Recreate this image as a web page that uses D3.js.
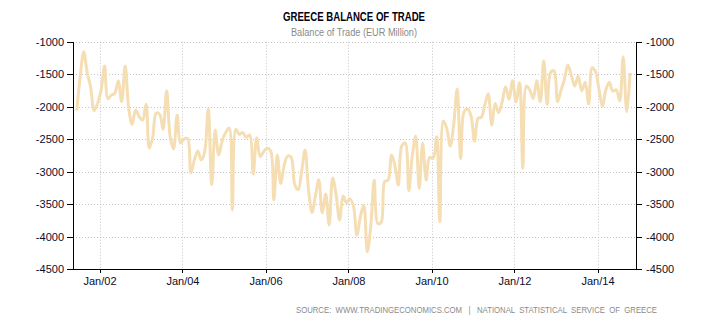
<!DOCTYPE html>
<html><head><meta charset="utf-8">
<script src="https://cdn.jsdelivr.net/npm/d3@7/dist/d3.min.js"></script>
<style>html,body{margin:0;padding:0;background:#fff;}svg{display:block;}</style>
</head><body>
<svg id="chart" width="710" height="325"></svg>
<script>
// Monthly balance of trade, EUR million (Jun 2001 - Oct 2014)
const values2001 = [-2060, -1540, -1155, -1477, -1700, -2062, -1950];            // Jun-Dec
const values2002 = [-1745, -1375, -1880, -1822, -1796, -1606, -1924, -1375, -2026, -2273, -2050, -2150];
const values2003 = [-2206, -1965, -2640, -2463, -2100, -2120, -2350, -1755, -2463, -2650, -2129, -2560];
const values2004 = [-2500, -2490, -3018, -2822, -2684, -2822, -2694, -2037, -3200, -2361, -2746, -2530];
const values2005 = [-2400, -2330, -3592, -2350, -2427, -2400, -2473, -2437, -3038, -2479, -2771, -2694];
const values2006 = [-2640, -2680, -3438, -2745, -3182, -2900, -2760, -2781, -3200, -3280, -3000, -2668];
const values2007 = [-3285, -3628, -3387, -3126, -3634, -3346, -3823, -3100, -3362, -3746, -3377, -3480];
const values2008 = [-3420, -3541, -3977, -3695, -3515, -4234, -3849, -3130, -3800, -3780, -3156, -3130];
const values2009 = [-2745, -2925, -3207, -2600, -2560, -3295, -2771, -2453, -3259, -2560, -3130, -2781];
const values2010 = [-2797, -2463, -3772, -2222, -2335, -2607, -2283, -1730, -2797, -2078, -2037, -2145];
const values2011 = [-2530, -2180, -2165, -1975, -1800, -2283, -1950, -2093, -1924, -1693, -1888, -1600];
const values2012 = [-1924, -1631, -2950, -1683, -1745, -1873, -1600, -1924, -1293, -1965, -1470, -1450];
const values2013 = [-1924, -1740, -1590, -1360, -1513, -1683, -1529, -1755, -1626, -1960, -1400, -1462];
const values2014 = [-1745, -1991, -1745, -1626, -1760, -1740, -1909, -1231, -2078, -1480];        // Jan-Oct

const yearBlocks = [
  [2001, 5, values2001], [2002, 0, values2002], [2003, 0, values2003], [2004, 0, values2004],
  [2005, 0, values2005], [2006, 0, values2006], [2007, 0, values2007], [2008, 0, values2008],
  [2009, 0, values2009], [2010, 0, values2010], [2011, 0, values2011], [2012, 0, values2012],
  [2013, 0, values2013], [2014, 0, values2014]
];
const yTickValues = [-1000, -1500, -2000, -2500, -3000, -3500, -4000, -4500];
const xTickYears = [2002, 2004, 2006, 2008, 2010, 2012, 2014];
const titleText = "GREECE BALANCE OF TRADE";
const subtitleText = "Balance of Trade (EUR Million)";
const sourceText = "SOURCE:  WWW.TRADINGECONOMICS.COM   |   NATIONAL  STATISTICAL  SERVICE  OF  GREECE";

const data = [];
yearBlocks.forEach(([yr, m0, vals]) => vals.forEach((v, i) => data.push({date: new Date(yr, m0 + i, 15), value: v})));

const L = 73, R = 636, T = 41.7, B = 269;
const svg = d3.select("#chart");

const xRef = d3.scaleTime().domain([new Date(2002, 0, 1), new Date(2014, 0, 1)]).range([99.5, 597.5]);
const x = d3.scaleTime().domain([xRef.invert(L), xRef.invert(R)]).range([L, R]);
const y = d3.scaleLinear().domain([-4500, -1000]).range([B, T]);
const xTicks = xTickYears.map(yr => new Date(yr, 0, 1));

// grid
const grid = svg.append("g").attr("stroke", "#c4c4c4").attr("stroke-width", 1).attr("stroke-dasharray", "1,2");
grid.selectAll("line.h").data(yTickValues.filter(v => v !== -4500)).join("line")
  .attr("x1", L).attr("x2", R).attr("y1", d => Math.round(y(d)) + 0.5).attr("y2", d => Math.round(y(d)) + 0.5);
grid.selectAll("line.v").data(xTicks).join("line")
  .attr("y1", T).attr("y2", B).attr("x1", d => Math.round(x(d)) + 0.5).attr("x2", d => Math.round(x(d)) + 0.5);

// line
const line = d3.line().x(d => x(d.date)).y(d => y(d.value)).curve(d3.curveCatmullRom.alpha(0.5));
svg.append("path").datum(data).attr("d", line).attr("fill", "none")
  .attr("stroke", "#F5DEB3").attr("stroke-width", 3).attr("stroke-linejoin", "round");

const fontAxis = "'Liberation Sans', Arial, sans-serif";
function styleAxis(g) {
  g.selectAll("path, line").attr("stroke", "#000").attr("shape-rendering", "crispEdges");
  g.selectAll("text").attr("fill", "#0c0c2c").style("font-family", fontAxis).style("font-size", "11px");
}
const plainNum = d => String(d);
svg.append("g").attr("transform", `translate(${L},0)`)
  .call(d3.axisLeft(y).tickValues(yTickValues).tickSize(6).tickSizeOuter(0).tickPadding(3).tickFormat(plainNum))
  .call(styleAxis);
svg.append("g").attr("transform", `translate(${R},0)`)
  .call(d3.axisRight(y).tickValues(yTickValues).tickSize(6).tickSizeOuter(0).tickPadding(4).tickFormat(plainNum))
  .call(styleAxis);
svg.append("g").attr("transform", `translate(0,${B})`)
  .call(d3.axisBottom(x).tickValues(xTicks).tickSize(4).tickSizeOuter(0).tickPadding(4).tickFormat(d3.timeFormat("Jan/%y")))
  .call(styleAxis);
svg.selectAll(".domain").attr("fill", "none");

// titles
svg.append("text").attr("x", 354).attr("y", 21).attr("text-anchor", "middle")
  .attr("textLength", 142).attr("lengthAdjust", "spacingAndGlyphs")
  .style("font-family", fontAxis).style("font-weight", "bold").style("font-size", "12px").attr("fill", "#000010")
  .text(titleText);
svg.append("text").attr("x", 354).attr("y", 36).attr("text-anchor", "middle")
  .attr("textLength", 126).attr("lengthAdjust", "spacingAndGlyphs")
  .style("font-family", fontAxis).style("font-size", "10px").attr("fill", "#8a8a8a")
  .text(subtitleText);
svg.append("text").attr("x", 296).attr("y", 313).attr("text-anchor", "start")
  .attr("textLength", 361).attr("lengthAdjust", "spacingAndGlyphs")
  .style("font-family", fontAxis).style("font-size", "8.5px").attr("fill", "#8a8a8a")
  .style("white-space", "pre").attr("xml:space", "preserve")
  .text(sourceText);
</script>
</body></html>
